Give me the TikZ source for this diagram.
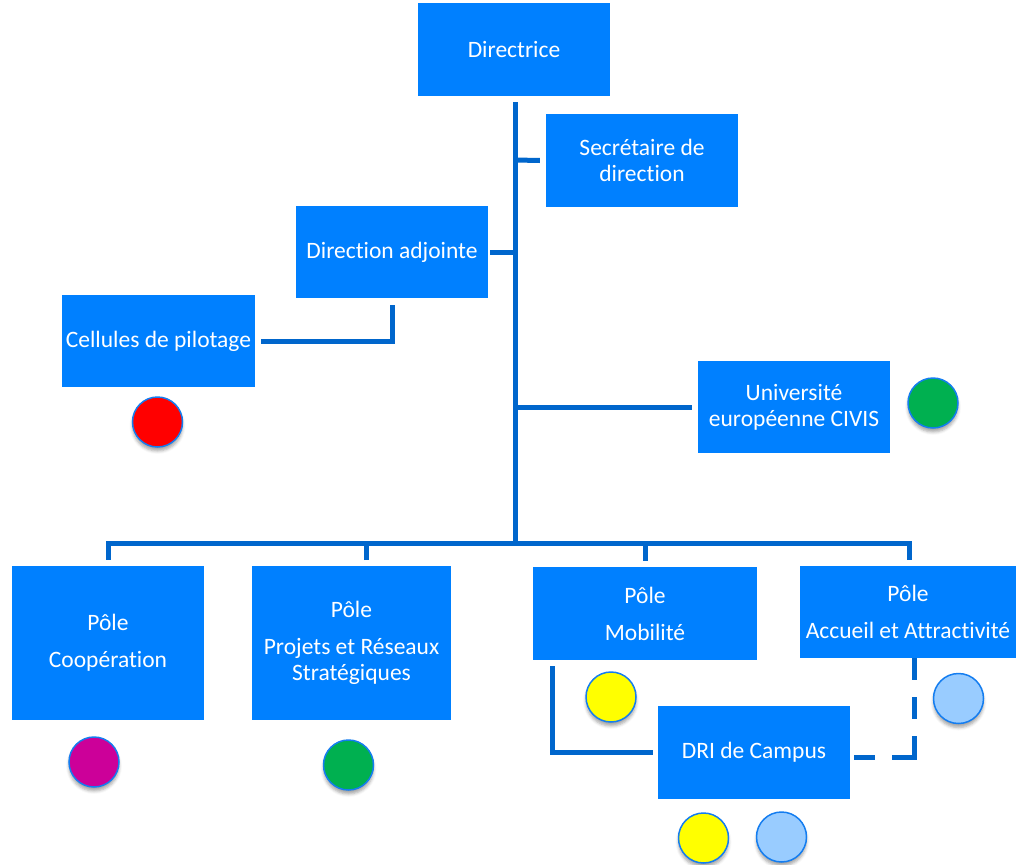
\documentclass[tikz,border=0pt]{standalone}
\usepackage{fontspec}
\setmainfont{Carlito}[Ligatures={NoCommon}]
\usetikzlibrary{shadows.blur}
\definecolor{boxblue}{RGB}{0,128,255}
\definecolor{linkblue}{RGB}{0,102,204}
\definecolor{ringblue}{RGB}{20,125,240}
\definecolor{dotred}{RGB}{255,0,0}
\definecolor{dotgreen}{RGB}{0,176,80}
\definecolor{dotmagenta}{RGB}{204,0,153}
\definecolor{dotyellow}{RGB}{255,255,0}
\definecolor{dotlight}{RGB}{153,204,255}
\begin{document}
\begin{tikzpicture}[x=1pt,y=-1pt,
  unit/.style={fill=boxblue, text=white, align=center, inner sep=0pt,
    font=\fontsize{23.5}{26}\selectfont},
  conn/.style={draw=linkblue, line width=5pt},
  dot/.style={circle, minimum size=50pt, inner sep=0pt, draw=ringblue, line width=1.5pt,
    blur shadow={shadow xshift=0pt, shadow yshift=-4pt, shadow blur radius=3pt, shadow opacity=35}}]
\useasboundingbox (0,0) rectangle (1016,864);

% boxes
\node[unit, minimum width=192, minimum height=93] (dir) at (514,49.5) {Directrice};
\node[unit, minimum width=192, minimum height=93] (sec) at (642,160.5) {Secrétaire de\\direction};
\node[unit, minimum width=192, minimum height=92] (adj) at (392,252) {Direction adjointe};
\node[unit, minimum width=193, minimum height=92] (cel) at (158.5,341) {Cellules de pilotage};
\node[unit, minimum width=192, minimum height=92] (civ) at (794,407) {Université\\européenne CIVIS};
\node[unit, minimum width=192, minimum height=154] (coop) at (108,643) {Pôle\\[11pt]Coopération};
\node[unit, minimum width=199, minimum height=154] (proj) at (351.5,643) {Pôle\\[11pt]Projets et Réseaux\\Stratégiques};
\node[unit, minimum width=224, minimum height=93] (mob) at (645,613.5) {Pôle\\[11pt]Mobilité};
\node[unit, minimum width=216, minimum height=92] (acc) at (908,612) {Pôle\\[11pt]Accueil et Attractivité};
\node[unit, minimum width=192, minimum height=93] (dri) at (754,752.5) {DRI de Campus};

% junction coordinates
\coordinate (bus) at (515,543);
\coordinate (jsec) at (515,160);
\coordinate (jadj) at (515,252);
\coordinate (jcel) at (392,305);
\coordinate (jciv) at (515,407);
\coordinate (jproj) at (366,560);
\coordinate (jmob) at (552,666);

% connectors
\draw[conn] ([xshift=1pt,yshift=-6pt]dir.south) -- (bus);
\draw[conn] (jsec) -- ([xshift=-6pt]sec.west);
\draw[conn] ([xshift=2pt]adj.east) -- (jadj);
\draw[conn] (jcel) |- ([xshift=6pt]cel.east);
\draw[conn] (jciv) -- ([xshift=-6pt]civ.west);
\draw[conn] ([yshift=6pt]coop.north) |- (bus) -| ([xshift=1pt,yshift=6pt]acc.north);
\draw[conn] (jproj) -- (jproj |- bus);
\draw[conn] ([yshift=6pt]mob.north) -- (mob.north |- bus);
\draw[conn] (jmob) |- ([xshift=-5pt]dri.west);
\draw[conn, dash pattern=on 22pt off 17pt on 22pt off 17pt on 43pt off 17pt on 22pt off 50pt]
  ([xshift=6pt]acc.south) |- ([xshift=4pt,yshift=-4.5pt]dri.east);

% status dots
\node[dot, fill=dotred] (d1) at (157.5,422) {};
\node[dot, fill=dotgreen] (d2) at (933,403) {};
\node[dot, fill=dotmagenta] (d3) at (94,762) {};
\node[dot, fill=dotgreen] (d4) at (348.5,765) {};
\node[dot, fill=dotyellow] (d5) at (611,697) {};
\node[dot, fill=dotlight] (d6) at (958.5,698.5) {};
\node[dot, fill=dotyellow] (d7) at (703.5,838) {};
\node[dot, fill=dotlight] (d8) at (781.5,837) {};
\end{tikzpicture}
\end{document}
